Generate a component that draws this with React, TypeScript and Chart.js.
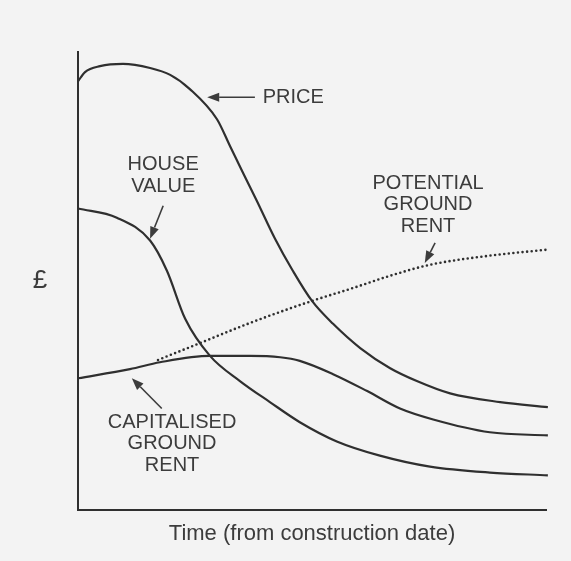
import React, { useEffect, useRef } from "react";
import { Chart, registerables } from "chart.js";

Chart.register(...registerables);

// ---- Data (schematic values, x = time, y = £) ----
const priceTime = [0, 1.5, 4.7, 9.6, 15.4, 19.7, 23.9, 29.7, 32.5, 35.3, 38.2, 42.1, 45.9, 50.0, 54.5, 60.3, 66.7, 72.4, 79.5, 90.2, 100.4];
const priceValue = [93.6, 95.6, 96.9, 97.4, 96.5, 95.0, 91.9, 85.3, 79.4, 73.5, 67.5, 59.2, 52.2, 45.6, 40.6, 35.3, 30.9, 28.1, 25.4, 23.5, 22.4];

const houseTime = [0, 8.3, 15.4, 19.0, 22.9, 28.2, 34.6, 41.0, 47.4, 55.3, 64.5, 75.2, 88.0, 100.4];
const houseValue = [65.8, 63.8, 58.8, 52.2, 41.7, 33.6, 28.1, 23.5, 19.1, 14.9, 11.8, 9.4, 8.1, 7.5];

const capTime = [0, 11.1, 17.5, 28.2, 36.8, 43.2, 47.4, 54.5, 61.8, 68.8, 75.9, 88.0, 100.4];
const capValue = [28.7, 30.7, 32.2, 33.6, 33.6, 33.3, 32.5, 29.6, 25.9, 22.1, 19.7, 16.9, 16.2];

const potentialTime = [17.1, 26.1, 36.8, 50.0, 58.1, 66.7, 75.2, 88.0, 100.2];
const potentialValue = [32.7, 36.4, 40.8, 45.6, 48.2, 51.1, 53.5, 55.5, 56.8];

const xAxisTitle = "Time (from construction date)";
const yAxisLabel = "£";

// annotation texts (first-line centre in data units) and arrows (tail -> tip)
const labelTexts = [["PRICE"], ["HOUSE", "VALUE"], ["POTENTIAL", "GROUND", "RENT"], ["CAPITALISED", "GROUND", "RENT"]];
const labelX = [46.0, 18.2, 74.8, 20.1];
const labelY = [90.1, 75.4, 71.3, 19.1];
const arrowFromX = [37.8, 18.2, 76.3, 17.9];
const arrowFromY = [90.1, 66.4, 58.3, 22.1];
const arrowToX = [27.6, 15.4, 74.1, 11.5];
const arrowToY = [90.1, 59.2, 53.9, 28.7];

const INK = "#2f2f2f";
const TEXT = "#3c3c3c";
const FONT = "'Liberation Sans', Arial, sans-serif";

const zip = (xs: number[], ys: number[]) => xs.map((x, i) => ({ x, y: ys[i] }));

const annotationPlugin = {
  id: "annotations",
  beforeDraw(chart: any) {
    const { ctx, width, height } = chart;
    ctx.save();
    ctx.fillStyle = "#f3f3f3";
    ctx.fillRect(0, 0, width, height);
    ctx.restore();
  },
  afterDraw(chart: any) {
    const { ctx, chartArea } = chart;
    const xs = chart.scales.x;
    const ys = chart.scales.y;
    ctx.save();
    ctx.fillStyle = TEXT;
    ctx.font = `20px ${FONT}`;
    ctx.textAlign = "center";
    ctx.textBaseline = "middle";
    labelTexts.forEach((lines, i) => {
      const px = xs.getPixelForValue(labelX[i]);
      const py = ys.getPixelForValue(labelY[i]);
      lines.forEach((t, j) => ctx.fillText(t, px, py + j * 21.5));
    });
    // arrows
    ctx.strokeStyle = TEXT;
    ctx.lineWidth = 1.6;
    arrowFromX.forEach((_, i) => {
      const x1 = xs.getPixelForValue(arrowFromX[i]);
      const y1 = ys.getPixelForValue(arrowFromY[i]);
      const x2 = xs.getPixelForValue(arrowToX[i]);
      const y2 = ys.getPixelForValue(arrowToY[i]);
      const ang = Math.atan2(y2 - y1, x2 - x1);
      const len = 12;
      const hw = 4.5;
      const bx = x2 - len * Math.cos(ang);
      const by = y2 - len * Math.sin(ang);
      ctx.beginPath();
      ctx.moveTo(x1, y1);
      ctx.lineTo(bx, by);
      ctx.stroke();
      ctx.beginPath();
      ctx.moveTo(x2, y2);
      ctx.lineTo(bx + hw * Math.sin(ang), by - hw * Math.cos(ang));
      ctx.lineTo(bx - hw * Math.sin(ang), by + hw * Math.cos(ang));
      ctx.closePath();
      ctx.fill();
    });
    // £ label
    ctx.font = `26px ${FONT}`;
    ctx.fillText(yAxisLabel, chartArea.left - 38, ys.getPixelForValue(50));
    ctx.restore();
  },
};

export default function App() {
  const ref = useRef<HTMLCanvasElement | null>(null);
  useEffect(() => {
    if (!ref.current) return;
    const solid = {
      borderColor: INK,
      borderWidth: 2.2,
      pointRadius: 0,
      fill: false,
      cubicInterpolationMode: "monotone" as const,
      clip: false as const,
    };
    const chart = new Chart(ref.current, {
      type: "line",
      data: {
        datasets: [
          { ...solid, label: "Price", data: zip(priceTime, priceValue) },
          { ...solid, label: "House value", data: zip(houseTime, houseValue) },
          { ...solid, label: "Capitalised ground rent", data: zip(capTime, capValue) },
          {
            ...solid,
            label: "Potential ground rent",
            data: zip(potentialTime, potentialValue),
            borderWidth: 2.6,
            borderDash: [0, 4.6],
            borderCapStyle: "round",
          },
        ],
      },
      options: {
        responsive: false,
        animation: false,
        layout: { padding: { left: 78, right: 25, top: 52, bottom: 14 } },
        plugins: { legend: { display: false }, tooltip: { enabled: false } },
        scales: {
          x: {
            type: "linear",
            min: 0,
            max: 100,
            grid: { display: false, drawTicks: false },
            border: { display: true, color: INK, width: 2 },
            ticks: { display: false },
            title: {
              display: true,
              text: xAxisTitle,
              color: TEXT,
              font: { family: FONT, size: 22 },
              padding: { top: 11, bottom: 0 },
            },
          },
          y: {
            type: "linear",
            min: 0,
            max: 100,
            grid: { display: false, drawTicks: false },
            border: { display: true, color: INK, width: 2 },
            ticks: { display: false },
          },
        },
      },
      plugins: [annotationPlugin],
    });
    return () => chart.destroy();
  }, []);
  return (
    <div style={{ position: "fixed", left: 0, top: 0, width: 571, height: 561, background: "#f3f3f3" }}>
      <canvas ref={ref} width={571} height={561} style={{ display: "block" }} />
    </div>
  );
}
